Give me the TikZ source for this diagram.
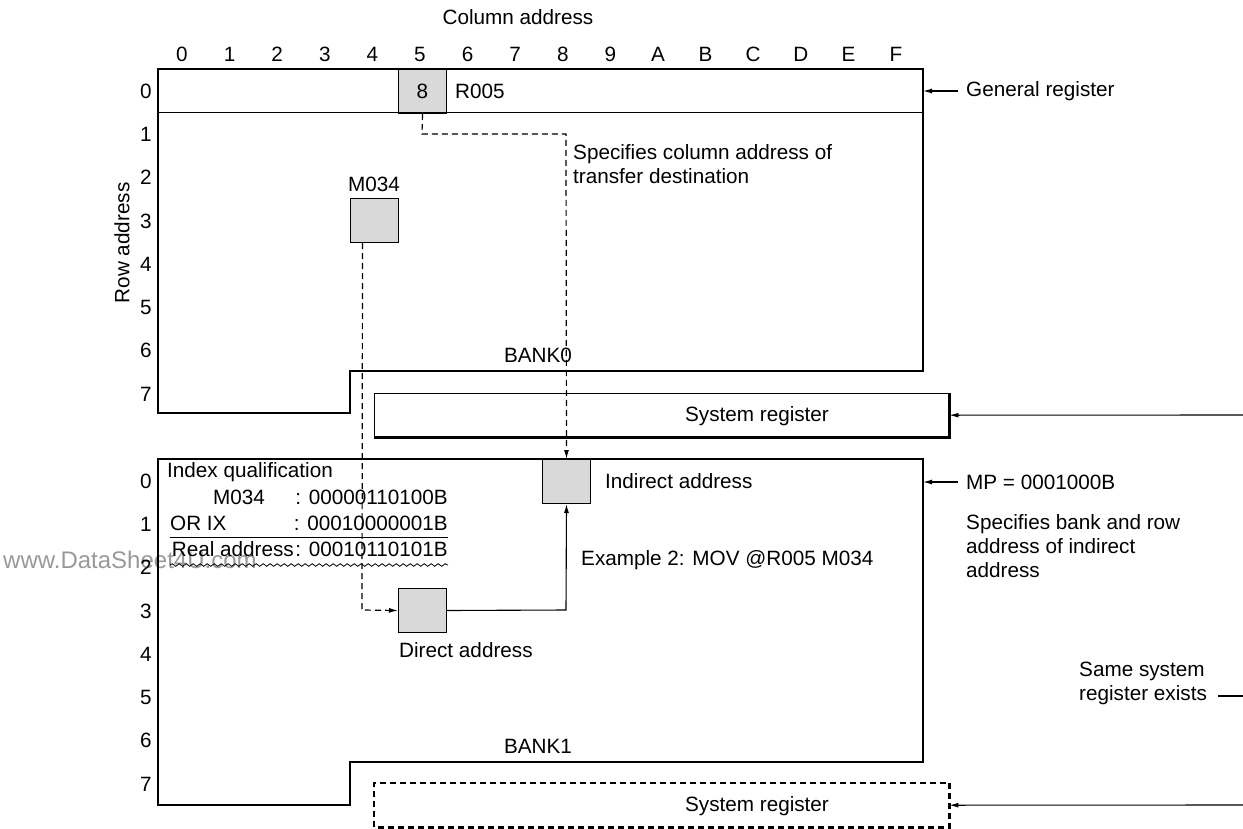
\documentclass[tikz,border=0pt]{standalone}
\usepackage{fontspec}
\setmainfont{Liberation Sans}
\usetikzlibrary{arrows.meta,decorations.pathmorphing}
\begin{document}
\begin{tikzpicture}[x=1pt,y=-1pt,
  every node/.style={font=\fontsize{20.7}{24}\selectfont, inner sep=0pt, text=black},
  bankline/.style={line width=2.6pt, line join=miter, line cap=rect},
  cell/.style={draw, line width=1pt, fill=black!15, minimum width=48pt, minimum height=44pt, anchor=north west},
  dsh/.style={dash pattern=on 6pt off 4pt, line width=1.2pt},
  tip/.style={-{Latex[length=9pt,width=5pt]}},
  lead/.style={line width=1.1pt, {Latex[length=9pt,width=5pt]}-},
  txt/.style={anchor=west},
  mtxt/.style={anchor=west, align=left},
  sysbox/.style={minimum width=575pt, minimum height=44pt, anchor=north west, inner sep=0pt}]
\useasboundingbox (0,0) rectangle (1243,828);

% watermark
\node[anchor=west, font=\fontsize{24}{28}\selectfont, text=black!40] (wm) at (3,560) {www.DataSheet4U.com};

% headings
\node (coladdr) at (518,17) {Column address};
\node[rotate=90] (rowaddr) at (122,243) {Row address};
\foreach \c [count=\i from 0] in {0,1,2,3,4,5,6,7,8,9,A,B,C,D,E,F}
  \node (col\i) at ({182+47.6*\i},54) {\c};
\foreach \r in {0,...,7} {
  \node (ra\r) at (146,{91+43.3*\r}) {\r};
  \node (rb\r) at (146,{481+43.3*\r}) {\r};
}

% shaded cells
\node[cell] (c8) at (398,69) {8};
\node[cell] (m034) at (350,198) {};
\node[cell] (ind) at (542,459) {};
\node[cell] (dir) at (398,588) {};

% bank 0 outline
\draw[bankline] (350,413) -- (158,413) -- (158,69) -- (923,69) -- (923,371);
\draw[line width=1.2pt] (923,371) -- (350,371) -- (350,413);
\draw[line width=1pt] (158,112) -- (923,112);

% bank 1 outline
\draw[bankline] (350,805) -- (158,805) -- (158,459) -- (923,459) -- (923,762);
\draw[line width=1.2pt] (923,762) -- (350,762) -- (350,805);

% bank 0 texts
\node[txt] (r005) at (455,91) {R005};
\node[txt] (genreg) at (966,91) {General register};
\coordinate (g0) at (923,91);
\draw[lead] (g0) -- ([xshift=-8pt]genreg.west);
\node[mtxt] (spec) at (573,164) {Specifies column address of\\transfer destination};
\node (m034l) at (374,184) {M034};
\node (bank0) at (538,355) {BANK0};

% system register 0
\node[sysbox] (sys0) at (374,393) {};
\draw[line width=1pt] (sys0.south west) -- (sys0.north west) -- (sys0.north east);
\draw[line width=2.4pt] (sys0.north east) -- (sys0.south east) -- (sys0.south west);
\node (sys0t) at (757,416) {System register};
\coordinate (e0) at (1243,415);
\draw[lead] (sys0.east) -- (e0);

% bank 1 texts
\node[txt] (indl) at (605,481) {Indirect address};
\node[txt] (mp) at (966,482) {MP = 0001000B};
\coordinate (g1) at (923,482);
\draw[lead] (g1) -- ([xshift=-8pt]mp.west);
\node[mtxt] (spec2) at (966,546) {Specifies bank and row\\address of indirect\\address};

\node[txt] (iq) at (167,472) {Index qualification};
\node[txt] (iqm) at (213,497) {M034};
\node[anchor=east] (iqm2) at (448,497) {: 00000110100B};
\node[txt] (iqo) at (170,523) {OR IX};
\node[anchor=east] (iqo2) at (448,523) {: 00010000001B};
\coordinate (ul0) at (170,537);
\coordinate (ul1) at (448,537);
\draw[line width=1pt] (ul0) -- (ul1);
\node[anchor=east] (iqr) at (294,549) {Real address};
\node[anchor=east] (iqr2) at (448,549) {: 00010110101B};
\coordinate (wv0) at (170,565);
\coordinate (wv1) at (448,565);
\draw[line width=0.8pt, decorate, decoration={snake, segment length=7pt, amplitude=1.3pt}] (wv0) -- (wv1);

\node[txt] (ex) at (581,560) {Example 2: MOV @R005 M034};
\node[txt] (dirl) at (399,650) {Direct address};
\node (bank1) at (538,746) {BANK1};

% system register 1 (dashed)
\node[sysbox] (sys1) at (374,783) {};
\draw[dsh] (sys1.south west) -- (sys1.north west) -- (sys1.north east);
\draw[dsh, line width=2.2pt] (sys1.north east) -- (sys1.south east) -- (sys1.south west);
\node (sys1t) at (757,806) {System register};
\coordinate (e1) at (1243,805);
\draw[lead] (sys1.east) -- (e1);

\node[mtxt] (same) at (1079,683) {Same system\\register exists};
\coordinate (s0) at (1218,696);
\coordinate (s1) at (1243,696);
\draw[line width=1.1pt] (s0) -- (s1);

% connectors
\draw[dsh, tip] (c8.south) -- (422,134) -- (566,134) -- (ind.north);
\draw[dsh, tip] ([xshift=-12pt]m034.south) -- (362,610) -- (dir.west);
\draw[line width=1.1pt, tip] (dir.east) -- (566,610) -- (ind.south);
\end{tikzpicture}
\end{document}
